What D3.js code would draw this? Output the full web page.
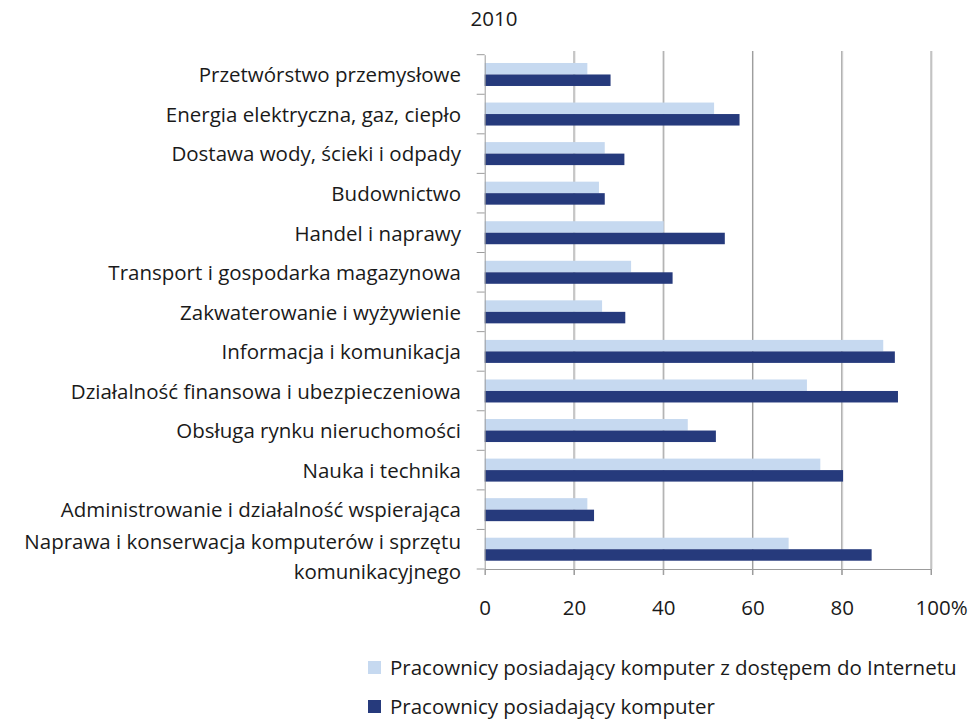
<!DOCTYPE html>
<html>
<head>
<meta charset="utf-8">
<script src="https://cdn.jsdelivr.net/npm/d3@7"></script>
<style>
  body { margin: 0; background: #fff; }
  text { font-family: "Open Sans", sans-serif; fill: #1a1a1a; }
</style>
</head>
<body>
<script>
// data
var categories = [
  "Przetwórstwo przemysłowe",
  "Energia elektryczna, gaz, ciepło",
  "Dostawa wody, ścieki i odpady",
  "Budownictwo",
  "Handel i naprawy",
  "Transport i gospodarka magazynowa",
  "Zakwaterowanie i wyżywienie",
  "Informacja i komunikacja",
  "Działalność finansowa i ubezpieczeniowa",
  "Obsługa rynku nieruchomości",
  "Nauka i technika",
  "Administrowanie i działalność wspierająca",
  "Naprawa i konserwacja komputerów i sprzętu|komunikacyjnego"
];
var internet = [23.0, 51.4, 26.9, 25.6, 40.1, 32.8, 26.3, 89.3, 72.2, 45.5, 75.2, 23.0, 68.1];
var computer = [28.2, 57.1, 31.3, 26.9, 53.8, 42.1, 31.5, 91.9, 92.6, 51.8, 80.3, 24.5, 86.7];
var seriesNames = ["Pracownicy posiadający komputer z dostępem do Internetu", "Pracownicy posiadający komputer"];
var seriesColors = ["#c6d9f0", "#263a7c"];
var xTicks = [0, 20, 40, 60, 80, 100];

var W = 977, H = 719;
var FS = "20.5px";
var svg = d3.select("body").append("svg")
  .attr("width", W).attr("height", H);

var x = d3.scaleLinear().domain([0, 100]).range([484.7, 931]);
var y = d3.scaleBand().domain(d3.range(categories.length)).range([54.7, 569]).padding(0);
var inner = d3.scaleBand().domain([0, 1]).range([0, y.bandwidth()]).paddingInner(0).paddingOuter(0.72);

svg.append("text")
  .attr("x", 494).attr("y", 26)
  .attr("text-anchor", "middle")
  .style("font-size", FS)
  .text("2010");

// gridlines
var grid = svg.append("g");
xTicks.slice(1).forEach(function(t) {
  grid.append("line")
    .attr("x1", x(t) + 1).attr("x2", x(t) + 1)
    .attr("y1", 51).attr("y2", 569)
    .attr("stroke", "#d6d6d6").attr("stroke-width", 1);
  grid.append("line")
    .attr("x1", x(t)).attr("x2", x(t))
    .attr("y1", 51).attr("y2", 575)
    .attr("stroke", "#9c9c9c").attr("stroke-width", 1);
});

// bars
var rows = categories.map(function(c, i) { return [internet[i], computer[i]]; });
var groups = svg.append("g").selectAll("g")
  .data(rows)
  .enter().append("g")
  .attr("transform", function(d, i) { return "translate(0," + y(i) + ")"; });

groups.selectAll("rect")
  .data(function(d) { return d; })
  .enter().append("rect")
  .attr("x", x(0))
  .attr("y", function(d, j) { return inner(j); })
  .attr("width", function(d) { return x(d) - x(0); })
  .attr("height", inner.bandwidth())
  .attr("fill", function(d, j) { return seriesColors[j]; });

// axes
var yAxis = svg.append("g")
  .attr("transform", "translate(" + x(0) + ",0)")
  .call(d3.axisLeft(y).tickSizeInner(0).tickSizeOuter(0).tickFormat(""));
yAxis.select(".domain").attr("stroke", "#9c9c9c");

// category separators on left axis
var seps = d3.range(categories.length + 1).map(function(i) { return i < categories.length ? y(i) : y.range()[1]; });
svg.append("g").selectAll("line")
  .data(seps)
  .enter().append("line")
  .attr("x1", x(0) - 8).attr("x2", x(0))
  .attr("y1", function(d) { return d; }).attr("y2", function(d) { return d; })
  .attr("stroke", "#9c9c9c");

var xAxis = svg.append("g")
  .attr("transform", "translate(0,569)")
  .call(d3.axisBottom(x).tickValues(xTicks).tickSize(6)
    .tickFormat(function(d) { return d === 100 ? "100%" : d; }));
xAxis.select(".domain").attr("stroke", "#9c9c9c");
xAxis.selectAll("line").attr("stroke", "#9c9c9c");
xAxis.selectAll("text")
  .style("font-size", FS)
  .attr("fill", "#1a1a1a")
  .attr("y", 46).attr("dy", null)
  .attr("text-anchor", function(d) { return d === 100 ? "start" : "middle"; })
  .attr("x", function(d) { return d === 100 ? -16 : 0; });

// category labels (the last one wraps onto two lines)
svg.append("g").selectAll("text")
  .data(categories)
  .enter().append("text")
  .attr("x", 461)
  .attr("y", function(d, i) {
    var c = y(i) + y.bandwidth() / 2;
    return d.indexOf("|") < 0 ? c + 7.8 : c - 0.5;
  })
  .attr("text-anchor", "end")
  .style("font-size", FS)
  .each(function(d) {
    var t = d3.select(this);
    d.split("|").forEach(function(l, k) {
      t.append("tspan")
        .attr("x", 461)
        .attr("dy", k === 0 ? 0 : 30)
        .text(l);
    });
  });

// legend
var legend = svg.append("g").selectAll("g")
  .data(seriesNames)
  .enter().append("g")
  .attr("transform", function(d, i) { return "translate(368," + (661 + i * 39) + ")"; });
legend.append("rect")
  .attr("width", 13).attr("height", 13)
  .attr("fill", function(d, i) { return seriesColors[i]; });
legend.append("text")
  .attr("x", 22).attr("y", 14)
  .style("font-size", FS)
  .text(function(d) { return d; });
</script>
</body>
</html>
